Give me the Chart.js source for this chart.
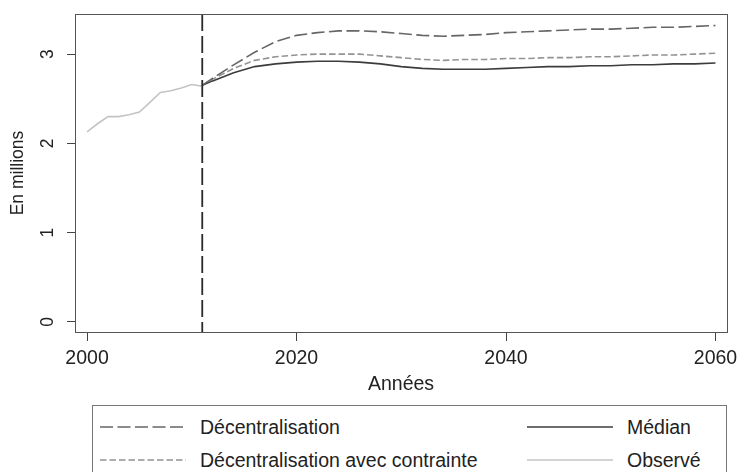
<!DOCTYPE html>
<html>
<head>
<meta charset="utf-8">
<script src="https://cdn.jsdelivr.net/npm/chart.js@4"></script>
<style>
    body { margin: 0; background: #fff; font-family: "Liberation Sans", Arial, sans-serif; }
    #wrap { position: relative; width: 738px; height: 472px; overflow: hidden; }
    #box { position: absolute; left: 0; top: 0; width: 738px; height: 400px; }
    #legende {
        position: absolute; left: 92px; top: 405px; width: 635px; height: 80px;
        border: 1px solid #777; box-sizing: border-box;
    }
    .item { position: absolute; display: flex; align-items: center; font-size: 19.5px; color: #222; }
    .item svg { margin-right: 14px; }
</style>
</head>
<body>
<div id="wrap">
    <div id="box"><canvas id="graphique"></canvas></div>
    <div id="legende"></div>
</div>
<script>
const anneesObs = [2000, 2001, 2002, 2003, 2004, 2005, 2006, 2007, 2008, 2009, 2010, 2011];
const observe = [2.13, 2.22, 2.30, 2.30, 2.32, 2.35, 2.46, 2.57, 2.59, 2.62, 2.66, 2.64];

const anneesProj = [2011, 2012, 2014, 2016, 2018, 2020, 2022, 2024, 2026, 2028, 2030, 2032, 2034,
    2036, 2038, 2040, 2042, 2044, 2046, 2048, 2050, 2052, 2054, 2056, 2058, 2060];
const decentralisation = [2.65, 2.73, 2.88, 3.02, 3.14, 3.21, 3.24, 3.26, 3.26, 3.25, 3.23, 3.21, 3.20,
    3.21, 3.22, 3.24, 3.25, 3.26, 3.27, 3.28, 3.28, 3.29, 3.30, 3.30, 3.31, 3.32];
const avecContrainte = [2.65, 2.72, 2.84, 2.93, 2.97, 2.99, 3.00, 3.00, 3.00, 2.98, 2.96, 2.94, 2.93,
    2.94, 2.94, 2.95, 2.95, 2.96, 2.96, 2.97, 2.97, 2.98, 2.99, 2.99, 3.00, 3.01];
const median = [2.65, 2.70, 2.79, 2.86, 2.89, 2.91, 2.92, 2.92, 2.91, 2.89, 2.86, 2.84, 2.83,
    2.83, 2.83, 2.84, 2.85, 2.86, 2.86, 2.87, 2.87, 2.88, 2.88, 2.89, 2.89, 2.90];

const anneeCoupure = 2011;
const ticksX = [2000, 2020, 2040, 2060];
const ticksY = [0, 1, 2, 3];

function points(xs, ys) {
    return xs.map((x, i) => ({x: x, y: ys[i]}));
}

const datasets = [
    {label: "Décentralisation", data: points(anneesProj, decentralisation), borderColor: "#666666",
        borderDash: [13, 4.5], colonne: 0, ligne: 0},
    {label: "Médian", data: points(anneesProj, median), borderColor: "#3c3c3c",
        borderDash: [], colonne: 1, ligne: 0},
    {label: "Décentralisation avec contrainte", data: points(anneesProj, avecContrainte), borderColor: "#939393",
        borderDash: [6.5, 3], colonne: 0, ligne: 1},
    {label: "Observé", data: points(anneesObs, observe), borderColor: "#c4c4c4",
        borderDash: [], colonne: 1, ligne: 1},
].map(d => Object.assign(d, {borderWidth: 1.6, pointRadius: 0, fill: false, tension: 0}));

// cadre + ligne verticale + etiquettes y tournees
const decor = {
    id: "decor",
    afterDatasetsDraw(chart) {
        const {ctx, chartArea: a, scales} = chart;
        ctx.save();
        const xc = scales.x.getPixelForValue(anneeCoupure);
        ctx.strokeStyle = "#2a2a2a";
        ctx.lineWidth = 1.8;
        ctx.setLineDash([17, 5]);
        ctx.beginPath();
        ctx.moveTo(xc, a.top);
        ctx.lineTo(xc, a.bottom);
        ctx.stroke();
        ctx.setLineDash([]);
        ctx.strokeStyle = "#555";
        ctx.lineWidth = 1;
        ctx.strokeRect(a.left + 0.5, a.top + 0.5, a.right - a.left, a.bottom - a.top);

        ctx.fillStyle = "#222";
        ctx.font = "17.5px 'Liberation Sans', Arial";
        ctx.textAlign = "center";
        ctx.textBaseline = "middle";
        ticksY.forEach(v => {
            const y = scales.y.getPixelForValue(v);
            ctx.save();
            ctx.translate(a.left - 27, y);
            ctx.rotate(-Math.PI / 2);
            ctx.fillText(String(v), 0, 0);
            ctx.restore();
        });
        ctx.restore();
    }
};

const chart = new Chart(document.getElementById("graphique"), {
    type: "line",
    data: {datasets: datasets},
    options: {
        responsive: true,
        maintainAspectRatio: false,
        animation: false,
        layout: {padding: {top: 14, right: 11, left: 0, bottom: 0}},
        plugins: {legend: {display: false}, tooltip: {enabled: false}},
        scales: {
            x: {
                type: "linear",
                min: 1998.85,
                max: 2061.1,
                afterBuildTicks: s => { s.ticks = ticksX.map(v => ({value: v})); },
                afterFit: s => { s.height = 68; s.paddingLeft = 0; s.paddingRight = 0; },
                grid: {drawOnChartArea: false, drawTicks: true, tickLength: 9, color: "#444"},
                border: {color: "#444"},
                ticks: {color: "#222", font: {size: 19.5, family: "'Liberation Sans', Arial"}, padding: 6,
                    maxRotation: 0, callback: v => String(v)},
                title: {display: true, text: "Années", color: "#222",
                    font: {size: 19.5, family: "'Liberation Sans', Arial"}, padding: {top: 0, bottom: 4}}
            },
            y: {
                min: -0.112,
                max: 3.449,
                afterBuildTicks: s => { s.ticks = ticksY.map(v => ({value: v})); },
                afterFit: s => { s.width = 75; s.paddingTop = 0; s.paddingBottom = 0; },
                grid: {drawOnChartArea: false, drawTicks: true, tickLength: 8, color: "#444"},
                border: {color: "#444"},
                ticks: {display: false},
                title: {display: true, text: "En millions", color: "#222",
                    font: {size: 17.5, family: "'Liberation Sans', Arial"}, padding: {top: 8, bottom: 0}}
            }
        }
    },
    plugins: [decor]
});

// legende HTML a deux colonnes
const legende = document.getElementById("legende");
const colX = [7, 434];
const ligneY = [7, 40];
chart.data.datasets.forEach(d => {
    const item = document.createElement("div");
    item.className = "item";
    item.style.left = colX[d.colonne] + "px";
    item.style.top = ligneY[d.ligne] + "px";
    item.style.height = "28px";
    const dash = d.borderDash.length ? `stroke-dasharray="${d.borderDash.join(",")}"` : "";
    item.innerHTML = `<svg width="86" height="4"><line x1="0" y1="2" x2="86" y2="2" stroke="${d.borderColor}" stroke-width="1.6" ${dash}/></svg><span>${d.label}</span>`;
    legende.appendChild(item);
});
</script>
</body>
</html>
